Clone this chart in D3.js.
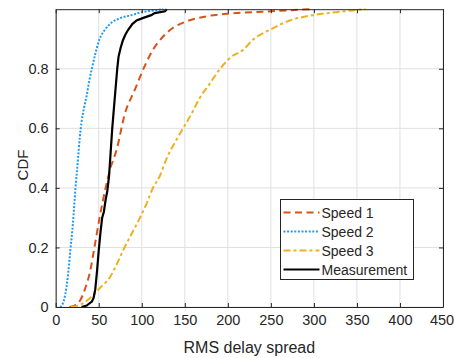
<!DOCTYPE html>
<html>
<head>
<meta charset="utf-8">
<script src="https://cdn.jsdelivr.net/npm/d3@7"></script>
<style>
  html, body { margin: 0; padding: 0; background: #fff; }
  text { font-family: "Liberation Sans", Arial, sans-serif; fill: #262626; }
</style>
</head>
<body>
<script>
// CDF points (x = RMS delay spread, y = CDF)
var speed1X = [16, 22, 28, 34, 40, 45, 51, 58, 63, 71, 80, 92, 102, 113, 125, 136, 152, 175, 200, 230, 268, 295];
var speed1Y = [0, .005, .02, .06, .12, .2, .3, .4, .46, .53, .645, .73, .8, .864, .909, .937, .959, .976, .985, .99, .996, 1];

var speed2X = [5, 8, 11, 14, 17, 20, 23, 26, 28, 30, 33, 36, 39, 42, 46, 51, 57, 65, 75, 88, 100, 115, 125];
var speed2Y = [0, .01, .04, .1, .19, .28, .4, .5, .57, .62, .67, .71, .76, .8, .85, .9, .93, .955, .97, .98, .99, .996, 1];

var speed3X = [18, 28, 40, 51, 63, 72, 80, 89, 98, 106, 113, 121, 129, 138, 148, 158, 167, 179, 191, 204, 218, 229, 249, 272, 299, 326, 345, 360];
var speed3Y = [0, .007, .03, .063, .1, .15, .2, .25, .3, .35, .4, .44, .5, .55, .6, .65, .7, .75, .8, .84, .864, .897, .931, .962, .98, .99, .996, 1];

var measX = [30, 36, 42, 44, 46, 48, 50, 52, 54, 56, 58, 60, 62, 65.7, 68, 71.5, 73, 75.4, 78, 81, 84, 89, 94, 101, 111, 115, 127, 129];
var measY = [0, .005, .018, .03, .06, .12, .19, .25, .3, .32, .36, .39, .44, .6, .68, .8, .84, .87, .895, .915, .93, .95, .962, .97, .98, .987, .993, 1];

var seriesNames = ['Speed 1', 'Speed 2', 'Speed 3', 'Measurement'];
var xTicks = [0, 50, 100, 150, 200, 250, 300, 350, 400, 450];
var yTicks = [0, 0.2, 0.4, 0.6, 0.8];

var width = 454;
var height = 358;
var mLeft = 55.7, mRight = 443, mTop = 9.2, mBottom = 307;

var svg = d3.select('body').append('svg')
    .attr('width', width)
    .attr('height', height);

svg.append('rect').attr('width', width).attr('height', height).attr('fill', '#fff');

var x = d3.scaleLinear().domain([0, 450]).range([mLeft, mRight]);
var y = d3.scaleLinear().domain([0, 1]).range([mBottom, mTop]);

// grid
var grid = svg.append('g').attr('class', 'grid');
grid.selectAll('line.gx').data(xTicks).enter().append('line')
    .attr('x1', function (d) { return x(d); })
    .attr('x2', function (d) { return x(d); })
    .attr('y1', mTop).attr('y2', mBottom)
    .attr('stroke', '#e0e0e0').attr('stroke-width', 1);
grid.selectAll('line.gy').data(yTicks).enter().append('line')
    .attr('y1', function (d) { return y(d); })
    .attr('y2', function (d) { return y(d); })
    .attr('x1', mLeft).attr('x2', mRight)
    .attr('stroke', '#e0e0e0').attr('stroke-width', 1);

// curves
var series = [
    { xs: speed1X, ys: speed1Y, color: '#D95319', dash: '7,4.5', w: 2, smooth: true },
    { xs: speed2X, ys: speed2Y, color: '#1E9BF5', dash: '2,1.6', w: 2, smooth: true },
    { xs: speed3X, ys: speed3Y, color: '#EDB120', dash: '7,3,3,3', w: 2, smooth: true },
    { xs: measX, ys: measY, color: '#000000', dash: null, w: 2.2, smooth: false }
];

var plot = svg.append('g').attr('class', 'curves');
series.forEach(function (s) {
    var pts = s.xs.map(function (v, i) { return [v, s.ys[i]]; });
    var line = d3.line()
        .x(function (d) { return x(d[0]); })
        .y(function (d) { return y(d[1]); })
        .curve(s.smooth ? d3.curveMonotoneX : d3.curveLinear);
    plot.append('path')
        .datum(pts)
        .attr('d', line)
        .attr('fill', 'none')
        .attr('stroke', s.color)
        .attr('stroke-width', s.w)
        .attr('stroke-dasharray', s.dash);
});

// axes (box with inward ticks on all four sides)
var axisColor = '#262626';
var xAxis = svg.append('g')
    .attr('transform', 'translate(0,' + mBottom + ')')
    .call(d3.axisBottom(x).tickValues(xTicks).tickSizeInner(-4).tickSizeOuter(0).tickPadding(8));
var yAxis = svg.append('g')
    .attr('transform', 'translate(' + mLeft + ',0)')
    .call(d3.axisLeft(y).tickValues(yTicks).tickSizeInner(-4).tickSizeOuter(0).tickPadding(7)
        .tickFormat(function (d) { return d === 0 ? '0' : d3.format('.1f')(d); }));
var xTop = svg.append('g')
    .attr('transform', 'translate(0,' + mTop + ')')
    .call(d3.axisTop(x).tickValues(xTicks).tickSizeInner(-4).tickSizeOuter(0).tickFormat(''));
var yRight = svg.append('g')
    .attr('transform', 'translate(' + mRight + ',0)')
    .call(d3.axisRight(y).tickValues(yTicks).tickSizeInner(-4).tickSizeOuter(0).tickFormat(''));

[xAxis, yAxis, xTop, yRight].forEach(function (g) {
    g.select('.domain').attr('stroke', axisColor).attr('stroke-width', 1);
    g.selectAll('.tick line').attr('stroke', axisColor);
    g.selectAll('.tick text')
        .attr('fill', axisColor)
        .style('font-family', '"Liberation Sans", Arial, sans-serif')
        .style('font-size', '14.5px');
});
// keep the last x label inside the window
xAxis.selectAll('.tick text').filter(function (d) { return d === 450; }).attr('dx', '-1.5');

// axis labels
svg.append('text')
    .attr('x', (mLeft + mRight) / 2)
    .attr('y', 353)
    .attr('text-anchor', 'middle')
    .style('font-size', '16px')
    .text('RMS delay spread');

svg.append('text')
    .attr('transform', 'translate(28,165) rotate(-90)')
    .attr('text-anchor', 'middle')
    .style('font-size', '15px')
    .text('CDF');

// legend
var lg = svg.append('g').attr('transform', 'translate(280.5,199.5)');
lg.append('rect')
    .attr('width', 133)
    .attr('height', 80)
    .attr('fill', '#fff')
    .attr('stroke', axisColor)
    .attr('stroke-width', 1);

series.forEach(function (s, i) {
    var yy = 13 + i * 19;
    lg.append('line')
        .attr('x1', 3).attr('x2', 39)
        .attr('y1', yy).attr('y2', yy)
        .attr('stroke', s.color)
        .attr('stroke-width', s.w)
        .attr('stroke-dasharray', s.dash);
    lg.append('text')
        .attr('x', 41)
        .attr('y', yy + 5)
        .style('font-size', '14px')
        .text(seriesNames[i]);
});
</script>
</body>
</html>
